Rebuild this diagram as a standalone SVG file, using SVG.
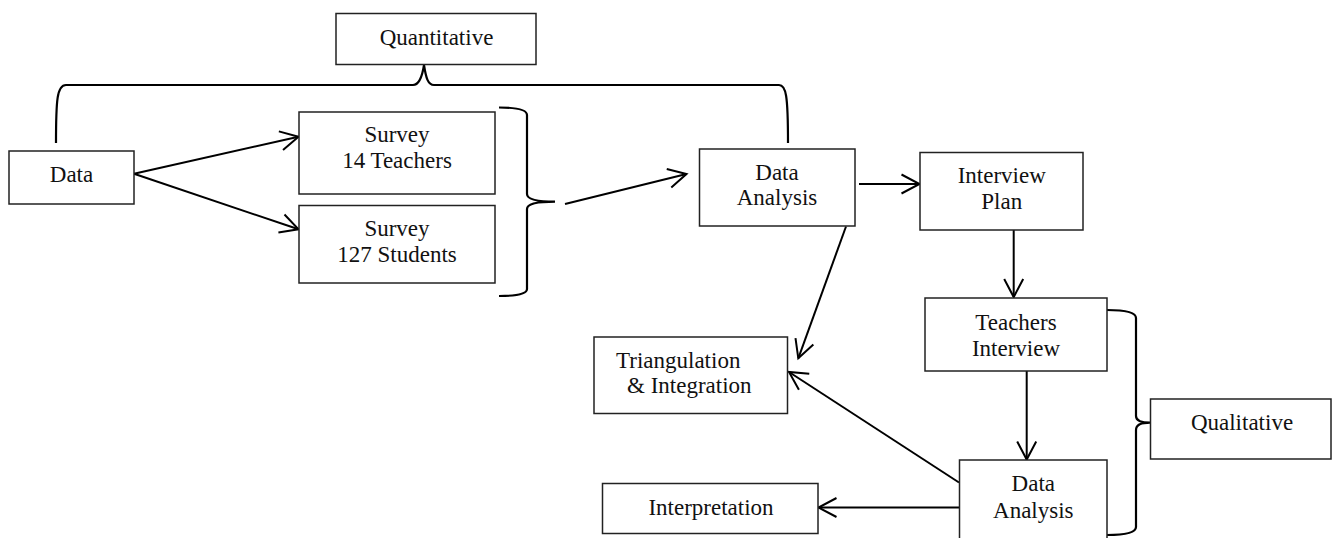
<svg xmlns="http://www.w3.org/2000/svg" width="1332" height="538" viewBox="0 0 1332 538">
<style>
.box{fill:#fff;stroke:#222;stroke-width:1.5}
.t{font-family:"Liberation Serif",serif;font-size:23px;fill:#111;text-anchor:middle}
.ts{font-family:"Liberation Serif",serif;font-size:23px;fill:#111}
.c{fill:none;stroke:#000;stroke-width:2}
.br{fill:none;stroke:#000;stroke-width:2.2}
</style>
<defs>
<marker id="ah" markerUnits="userSpaceOnUse" markerWidth="40" markerHeight="40" refX="0" refY="0" orient="auto" overflow="visible">
<path d="M-18,-9.5 L0,0 L-18,9.5" fill="none" stroke="#000" stroke-width="2"/>
</marker>
</defs>
<rect width="1332" height="538" fill="#fff"/>
<g id="braces">
<path class="br" d="M56,143 C56,100 57,85 66,85 L413,85 C419,85 422,78 424,65 C426,78 428,85 434,85 L779,85 C786,85 788,95 788,143"/>
<path class="br" d="M499,107.5 Q527,107.5 527,115 L527,194 Q527,201.7 555,201.7 Q527,201.7 527,209 L527,289 Q527,296 499,296"/>
<path class="br" d="M1107,310 Q1136,310 1136,318 L1136,416 Q1136,422.7 1150,422.7 Q1136,422.7 1136,430 L1136,527 Q1136,535 1107,535"/>
</g>
<g id="connectors">
<path class="c" d="M134,173.7 L298.5,136.7" marker-end="url(#ah)"/>
<path class="c" d="M134,173.7 L298.5,229.3" marker-end="url(#ah)"/>
<path class="c" d="M565,204 L686.5,174" marker-end="url(#ah)"/>
<path class="c" d="M859,184 L919.5,184" marker-end="url(#ah)"/>
<path class="c" d="M1013.7,230 L1013.7,297" marker-end="url(#ah)"/>
<path class="c" d="M846,226.5 L798.3,358.3" marker-end="url(#ah)"/>
<path class="c" d="M1026.7,371 L1026.7,459.5" marker-end="url(#ah)"/>
<path class="c" d="M959,482.5 L789,372" marker-end="url(#ah)"/>
<path class="c" d="M959,507.5 L818.5,507.5" marker-end="url(#ah)"/>
</g>
<g id="quantitative">
<rect class="box" x="336" y="13.5" width="200" height="51"/>
<text class="t" x="436.5" y="45">Quantitative</text>
</g>
<g id="data">
<rect class="box" x="9" y="151" width="125" height="53"/>
<text class="t" x="71.5" y="181.7">Data</text>
</g>
<g id="survey-teachers">
<rect class="box" x="299" y="112" width="196" height="82"/>
<text class="t" x="397" y="141.7">Survey</text>
<text class="t" x="397" y="168.3">14 Teachers</text>
</g>
<g id="survey-students">
<rect class="box" x="299" y="205.5" width="196" height="77.5"/>
<text class="t" x="397" y="235.7">Survey</text>
<text class="t" x="397" y="262.3">127 Students</text>
</g>
<g id="data-analysis-1">
<rect class="box" x="699.5" y="149" width="155.5" height="77"/>
<text class="t" x="777" y="180">Data</text>
<text class="t" x="777" y="205">Analysis</text>
</g>
<g id="interview-plan">
<rect class="box" x="920" y="152.5" width="163" height="77.5"/>
<text class="t" x="1001.7" y="182.7">Interview</text>
<text class="t" x="1001.7" y="209.3">Plan</text>
</g>
<g id="teachers-interview">
<rect class="box" x="925" y="298" width="182" height="73"/>
<text class="t" x="1016" y="330">Teachers</text>
<text class="t" x="1016" y="356">Interview</text>
</g>
<g id="qualitative">
<rect class="box" x="1150.5" y="399" width="180.5" height="60"/>
<text class="t" x="1242" y="430">Qualitative</text>
</g>
<g id="data-analysis-2">
<rect class="box" x="959.5" y="460" width="147.5" height="90"/>
<text class="t" x="1033.3" y="490.7">Data</text>
<text class="t" x="1033.3" y="517.7">Analysis</text>
</g>
<g id="triangulation">
<rect class="box" x="594" y="337" width="193.5" height="76.5"/>
<text class="ts" x="616" y="368.3">Triangulation</text>
<text class="ts" x="627" y="393.3">&amp; Integration</text>
</g>
<g id="interpretation">
<rect class="box" x="602.5" y="483.5" width="215.5" height="50"/>
<text class="t" x="711" y="515">Interpretation</text>
</g>
</svg>
